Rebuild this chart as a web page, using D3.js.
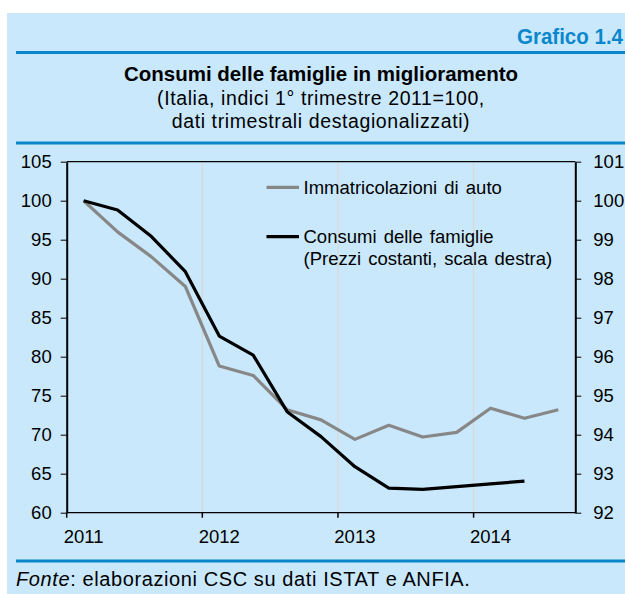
<!DOCTYPE html>
<html>
<head>
<meta charset="utf-8">
<script src="https://cdn.jsdelivr.net/npm/d3@7"></script>
<style>
	body { margin: 0; background: #fff; }
	svg { display: block; font-family: "Liberation Sans", Arial, sans-serif; }
	.axis text { font-size: 18.5px; fill: #000; }
	.axis path, .axis line { stroke: #000; }
</style>
</head>
<body>
<svg width="625" height="594"></svg>
<script>
// trimestri dal 1° 2011 al 3° 2014
const trimestri = ["2011-1", "2011-2", "2011-3", "2011-4",
	"2012-1", "2012-2", "2012-3", "2012-4",
	"2013-1", "2013-2", "2013-3", "2013-4",
	"2014-1", "2014-2", "2014-3"];

// scala sinistra
const immatricolazioni = [100, 96.0, 92.8, 89.0, 78.8, 77.6, 73.2, 71.9, 69.4, 71.2, 69.7, 70.3, 73.4, 72.1, 73.2];
// scala destra, fino al 2° trimestre 2014
const consumi = [100, 99.76, 99.08, 98.18, 96.53, 96.04, 94.59, 93.95, 93.18, 92.63, 92.6, 92.67, 92.74, 92.81];

const ticksSx = [60, 65, 70, 75, 80, 85, 90, 95, 100, 105];
const ticksDx = [92, 93, 94, 95, 96, 97, 98, 99, 100, 101];
const anni = ["2011-1", "2012-1", "2013-1", "2014-1"];

const blu = '#0a87cc';
const grigio = '#878787';

const svg = d3.select("svg");

// sfondo azzurro
svg.append("rect")
	.attr("x", 7).attr("y", 13)
	.attr("width", 625 - 7).attr("height", 594 - 13)
	.attr("fill", "#c9e8fc");

for (let y of [52.5, 143, 561]) {
	svg.append("line")
		.attr("x1", 16).attr("x2", 625)
		.attr("y1", y).attr("y2", y)
		.attr("stroke", blu).attr("stroke-width", 3);
}

svg.append("text")
	.attr("x", 517).attr("y", 43.5)
	.attr("font-size", 22).attr("font-weight", "bold")
	.attr("fill", blu)
	.attr("textLength", 106).attr("lengthAdjust", "spacingAndGlyphs")
	.text("Grafico 1.4");

svg.append("text")
	.attr("x", 321).attr("y", 81)
	.attr("text-anchor", "middle")
	.attr("font-size", 20.5).attr("font-weight", "bold")
	.text("Consumi delle famiglie in miglioramento");

const sottotitolo = ["(Italia, indici 1° trimestre 2011=100,", "dati trimestrali destagionalizzati)"];
sottotitolo.forEach((t, i) => {
	svg.append("text")
		.attr("x", 321).attr("y", 104.5 + i * 23.3)
		.attr("text-anchor", "middle")
		.attr("font-size", 19.5)
		.attr("letter-spacing", 0.6)
		.text(t);
});

const fonte = svg.append("text")
	.attr("x", 16).attr("y", 586)
	.attr("font-size", 20)
	.attr("letter-spacing", 0.6);
fonte.append("tspan").attr("font-style", "italic").text("Fonte");
fonte.append("tspan").text(": elaborazioni CSC su dati ISTAT e ANFIA.");

const margin = {top: 161.7, left: 66.7, right: 575.3, bottom: 512.7};

const x = d3.scaleBand().domain(trimestri).range([margin.left, margin.right]);
const bw = x.bandwidth();
const cx = d => x(d) + bw / 2;

const ySx = d3.scaleLinear().domain([60, 105]).range([margin.bottom, margin.top]);
const yDx = d3.scaleLinear().domain([92, 101]).range([margin.bottom, margin.top]);

// griglia verticale
svg.append("g")
	.selectAll("line")
	.data(anni.slice(1))
	.join("line")
	.attr("x1", d => x(d)).attr("x2", d => x(d))
	.attr("y1", margin.top).attr("y2", margin.bottom)
	.attr("stroke", "#d9d9d9").attr("stroke-width", 1.3);

// bordo superiore
svg.append("line")
	.attr("x1", margin.left).attr("x2", margin.right)
	.attr("y1", margin.top).attr("y2", margin.top)
	.attr("stroke", "#000").attr("stroke-width", 1.2);

const gX = svg.append("g")
	.attr("class", "axis")
	.attr("transform", `translate(0,${margin.bottom})`)
	.call(d3.axisBottom(x).tickValues(anni).tickSize(5).tickPadding(12).tickFormat(d => d.slice(0, 4)));
gX.select(".domain").attr("stroke-width", 1.2).attr("d", `M${margin.left},0H${margin.right}`);
gX.selectAll(".tick line").attr("x1", -bw / 2).attr("x2", -bw / 2).attr("stroke", "#555").attr("stroke-width", 1.5);

const gSx = svg.append("g")
	.attr("class", "axis")
	.attr("transform", `translate(${margin.left},0)`)
	.call(d3.axisLeft(ySx).tickValues(ticksSx).tickSize(6).tickPadding(9).tickSizeOuter(0));
gSx.select(".domain").attr("stroke", "#222").attr("stroke-width", 2);

const gDx = svg.append("g")
	.attr("class", "axis")
	.attr("transform", `translate(${margin.right},0)`)
	.call(d3.axisRight(yDx).tickValues(ticksDx).tickSize(6).tickPadding(12).tickSizeOuter(0));
gDx.select(".domain").attr("stroke", "#222").attr("stroke-width", 2);

const lineaSx = d3.line()
	.x((d, i) => cx(trimestri[i]))
	.y(d => ySx(d));
const lineaDx = d3.line()
	.x((d, i) => cx(trimestri[i]))
	.y(d => yDx(d));

svg.append("path")
	.datum(immatricolazioni)
	.attr("d", lineaSx)
	.attr("fill", "none")
	.attr("stroke", grigio).attr("stroke-width", 3.2)
	.attr("stroke-linejoin", "round");

svg.append("path")
	.datum(consumi)
	.attr("d", lineaDx)
	.attr("fill", "none")
	.attr("stroke", "#000").attr("stroke-width", 3.2)
	.attr("stroke-linejoin", "round");

// legenda
const legenda = [
	{colore: grigio, y: 187.3, righe: ["Immatricolazioni di auto"]},
	{colore: "#000", y: 236.7, righe: ["Consumi delle famiglie", "(Prezzi costanti, scala destra)"]}
];
legenda.forEach(l => {
	svg.append("line")
		.attr("x1", 266.5).attr("x2", 299)
		.attr("y1", l.y).attr("y2", l.y)
		.attr("stroke", l.colore).attr("stroke-width", 3.2);
	l.righe.forEach((r, i) => {
		svg.append("text")
			.attr("x", 303.5).attr("y", l.y + 6.5 + i * 22)
			.attr("font-size", 18.5)
			.attr("word-spacing", 2)
			.text(r);
	});
});
</script>
</body>
</html>
